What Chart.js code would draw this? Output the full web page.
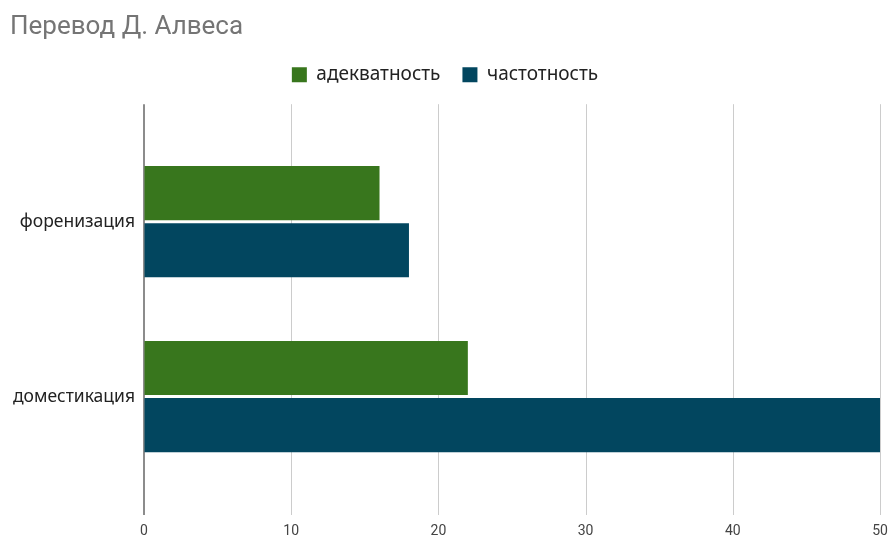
<!DOCTYPE html>
<html>
<head>
<meta charset="utf-8">
<script src="https://cdn.jsdelivr.net/npm/chart.js@4.4.1/dist/chart.umd.min.js"></script>
<style>
  body { margin: 0; background: #fff; }
</style>
</head>
<body>
<canvas id="chart" width="891" height="538"></canvas>
<script>
const categories = ["форенизация", "доместикация"];
const adequacy = [16, 22];
const frequency = [18, 50];
const xTicks = [0, 10, 20, 30, 40, 50];

// vertical grid lines run past the plot area, like in the sheet chart
const longGrid = {
  id: 'longGrid',
  beforeDatasetsDraw(chart) {
    const ctx = chart.ctx;
    const area = chart.chartArea;
    const x = chart.scales.x;
    const top = area.top - 30;
    const bottom = area.bottom + 31;
    ctx.save();
    ctx.lineWidth = 1;
    ctx.strokeStyle = '#cccccc';
    xTicks.forEach(function (v) {
      if (v === 0) return;
      const px = Math.round(x.getPixelForValue(v)) + 0.5;
      ctx.beginPath();
      ctx.moveTo(px, top);
      ctx.lineTo(px, bottom);
      ctx.stroke();
    });
    ctx.strokeStyle = '#666666';
    ctx.lineWidth = 1.5;
    const px0 = x.getPixelForValue(0);
    ctx.beginPath();
    ctx.moveTo(px0, top);
    ctx.lineTo(px0, bottom);
    ctx.stroke();
    ctx.restore();
  }
};

new Chart(document.getElementById('chart').getContext('2d'), {
  type: 'bar',
  data: {
    labels: categories,
    datasets: [
      { label: 'адекватность', data: adequacy, backgroundColor: '#38761d' },
      { label: 'частотность', data: frequency, backgroundColor: '#02465f' }
    ]
  },
  options: {
    indexAxis: 'y',
    responsive: false,
    animation: false,
    categoryPercentage: 0.653,
    barPercentage: 0.947,
    layout: { padding: { left: 10, right: 11, top: 0, bottom: 0 } },
    plugins: {
      title: {
        display: true,
        text: 'Перевод Д. Алвеса',
        align: 'start',
        color: '#757575',
        font: { family: 'Roboto', size: 26, weight: 'normal' },
        padding: { top: 12, bottom: 0 }
      },
      // empty spacer between legend and plot
      subtitle: {
        display: true,
        text: '',
        weight: 500,
        font: { size: 10 },
        padding: { top: 0, bottom: 28 }
      },
      legend: {
        position: 'top',
        labels: {
          color: '#222',
          font: { family: 'Noto Sans', size: 19 },
          boxWidth: 15,
          boxHeight: 15,
          padding: 22
        }
      },
      tooltip: { enabled: false }
    },
    scales: {
      x: {
        min: 0,
        max: 50,
        ticks: {
          stepSize: 10,
          color: '#444',
          font: { family: 'Roboto', size: 14 },
          padding: 0
        },
        grid: { color: 'rgba(0,0,0,0)', drawTicks: true, tickLength: 39 },
        border: { display: false },
        afterFit: function (scale) { scale.height = 54; }
      },
      y: {
        ticks: {
          color: '#222',
          font: { family: 'Noto Sans', size: 17.5 },
          padding: 9
        },
        grid: { display: false, drawTicks: false },
        border: { display: false },
        afterFit: function (scale) { scale.width = 134; }
      }
    }
  },
  plugins: [longGrid]
});
</script>
</body>
</html>
